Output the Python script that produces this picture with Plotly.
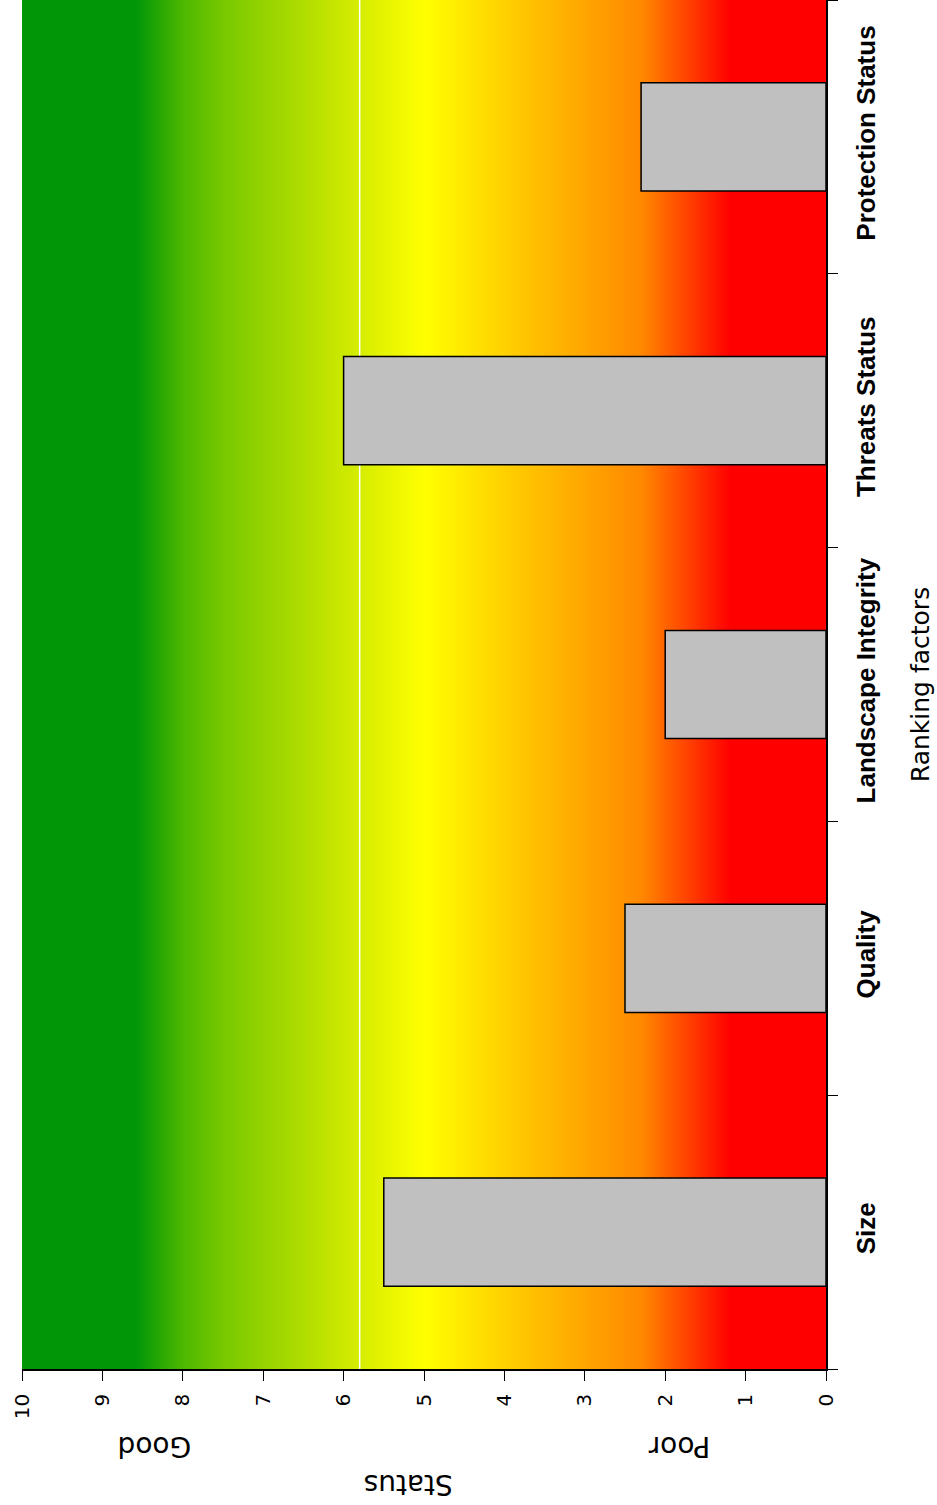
import plotly.graph_objects as go

# ---- data ----
categories = ["Size", "Quality", "Landscape Integrity", "Threats Status", "Protection Status"]
values = [5.5, 2.5, 2.0, 6.0, 2.3]
tick_values = [0, 1, 2, 3, 4, 5, 6, 7, 8, 9, 10]
tick_labels = ["0", "1", "2", "3", "4", "5", "6", "7", "8", "9", "10"]

# background gradient stops (status value -> colour)
grad_stops = [0.0, 1.2, 2.3, 3.7, 5.0, 6.2, 7.5, 8.0, 8.6, 10.0]
grad_colors = ["rgb(255,0,0)", "rgb(255,0,0)", "rgb(255,136,0)", "rgb(255,194,0)",
               "rgb(255,255,0)", "rgb(194,228,0)", "rgb(120,200,0)", "rgb(78,184,0)",
               "rgb(0,150,8)", "rgb(0,150,8)"]
marker_value = 5.8

ARIAL = "Liberation Sans, Arial, sans-serif"
DEJAVU = "DejaVu Sans, Verdana, sans-serif"

colorscale = [[s / 10.0, c] for s, c in zip(grad_stops, grad_colors)]

fig = go.Figure()

# gradient background (main subplot, numeric hidden y axis)
fig.add_trace(go.Heatmap(
    x=grad_stops, y=[0, 1], z=[grad_stops, grad_stops],
    zmin=0, zmax=10, colorscale=colorscale, zsmooth="best",
    showscale=False, hoverinfo="skip", xaxis="x", yaxis="y"))

# thin white vertical line
fig.add_trace(go.Scatter(
    x=[marker_value, marker_value], y=[0, 1], mode="lines",
    line=dict(color="white", width=1.5), hoverinfo="skip",
    showlegend=False, xaxis="x", yaxis="y"))

# bars on overlay category axis
fig.add_trace(go.Bar(
    y=categories, x=values, orientation="h", width=0.395,
    marker=dict(color="#c0c0c0", line=dict(color="#000000", width=1.5)),
    showlegend=False, xaxis="x", yaxis="y2"))

fig.update_layout(
    width=937, height=1505,
    margin=dict(l=22, r=111, t=0, b=136, autoexpand=False),
    paper_bgcolor="white", plot_bgcolor="white",
    font=dict(family=DEJAVU, color="black"),
    xaxis=dict(
        range=[10, 0], tickvals=tick_values, ticktext=tick_labels,
        tickangle=-90, ticks="outside", ticklen=10, tickcolor="#000",
        tickwidth=1.2, showline=True, linecolor="#000", linewidth=1.5,
        showgrid=False, zeroline=False, automargin=False,
        tickfont=dict(size=20, family=DEJAVU), ticklabelstandoff=5,
    ),
    yaxis=dict(range=[0, 1], visible=False, fixedrange=True),
    yaxis2=dict(
        overlaying="y", side="right", anchor="x", type="category",
        categoryorder="array", categoryarray=categories,
        tickangle=-90, ticks="outside", ticklen=10, tickcolor="#000",
        tickwidth=1.2, tickson="boundaries", automargin=False,
        showline=True, linecolor="#000", linewidth=1.5, showgrid=False,
        tickfont=dict(size=26, family=ARIAL, weight="bold"),
        ticklabelstandoff=16,
        title=dict(text="Ranking factors", font=dict(size=25, family=DEJAVU), standoff=32),
    ),
    annotations=[
        dict(text="Good", x=8.35, xref="x", y=-0.070, yref="paper", showarrow=False,
             textangle=180, font=dict(size=28, family=DEJAVU)),
        dict(text="Poor", x=1.82, xref="x", y=-0.070, yref="paper", showarrow=False,
             textangle=180, font=dict(size=28, family=DEJAVU)),
        dict(text="Status", x=5.2, xref="x", y=-0.0975, yref="paper", showarrow=False,
             textangle=180, font=dict(size=28, family=DEJAVU)),
    ],
)

fig.write_html("out.html", config={"displayModeBar": False},
               post_script="document.body.style.margin='0';")
